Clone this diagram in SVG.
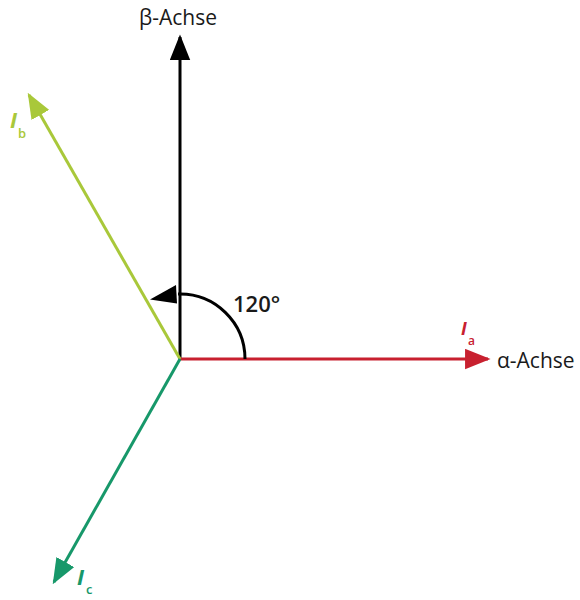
<svg xmlns="http://www.w3.org/2000/svg" width="580" height="600" viewBox="0 0 580 600">
<style>
.lbl{font-family:"Open Sans","Liberation Sans",sans-serif;font-size:21px;fill:#1a1a1a}
.cur{font-family:"Open Sans","Liberation Sans",sans-serif;font-style:italic;font-weight:bold}
.sub{font-family:"Open Sans","Liberation Sans",sans-serif;font-weight:600}
</style>
<defs>
<marker id="mk" viewBox="0 0 10 8" refX="9" refY="4" markerWidth="8.5" markerHeight="7" markerUnits="strokeWidth" orient="auto"><path d="M0,0 L10,4 L0,8 Z" fill="#000"/></marker>
<marker id="mr" viewBox="0 0 10 8" refX="9" refY="4" markerWidth="8.5" markerHeight="7" markerUnits="strokeWidth" orient="auto"><path d="M0,0 L10,4 L0,8 Z" fill="#c8202f"/></marker>
<marker id="my" viewBox="0 0 10 8" refX="9" refY="4" markerWidth="8.5" markerHeight="7" markerUnits="strokeWidth" orient="auto"><path d="M0,0 L10,4 L0,8 Z" fill="#a9c83a"/></marker>
<marker id="mg" viewBox="0 0 10 8" refX="9" refY="4" markerWidth="8.5" markerHeight="7" markerUnits="strokeWidth" orient="auto"><path d="M0,0 L10,4 L0,8 Z" fill="#17986a"/></marker>
</defs>
<g id="connectors" fill="none" stroke-width="3">
<line x1="180" y1="359" x2="180" y2="37" stroke="#000" marker-end="url(#mk)"/>
<line x1="180" y1="359" x2="488" y2="359" stroke="#c8202f" marker-end="url(#mr)"/>
<line x1="180" y1="359" x2="29" y2="95" stroke="#a9c83a" marker-end="url(#my)"/>
<line x1="180" y1="359" x2="54" y2="582" stroke="#17986a" marker-end="url(#mg)"/>
<path d="M245,359 A65,65 0 0 0 178,294" stroke="#000"/>
<path d="M176,285 L177,303.5 L150,299.5 Z" fill="#000" stroke="none"/>
</g>
<g id="beta-axis"><text class="lbl" x="178" y="25" text-anchor="middle">β-Achse</text></g>
<g id="alpha-axis"><text class="lbl" x="497" y="368">α-Achse</text></g>
<g id="angle"><text x="233" y="312" font-family="'Open Sans','Liberation Sans',sans-serif" font-weight="600" font-size="22" fill="#1a1a1a">120°</text></g>
<g id="Ia"><text class="cur" x="461" y="335" font-size="18" fill="#c8202f">I</text><text class="sub" x="468" y="345" font-size="12" fill="#c8202f">a</text></g>
<g id="Ib"><text class="cur" x="10" y="128" font-size="22" fill="#a9c83a">I</text><text class="sub" x="18" y="138" font-size="13" fill="#a9c83a">b</text></g>
<g id="Ic"><text class="cur" x="77" y="585" font-size="22" fill="#17986a">I</text><text class="sub" x="86" y="594" font-size="13" fill="#17986a">c</text></g>
</svg>
